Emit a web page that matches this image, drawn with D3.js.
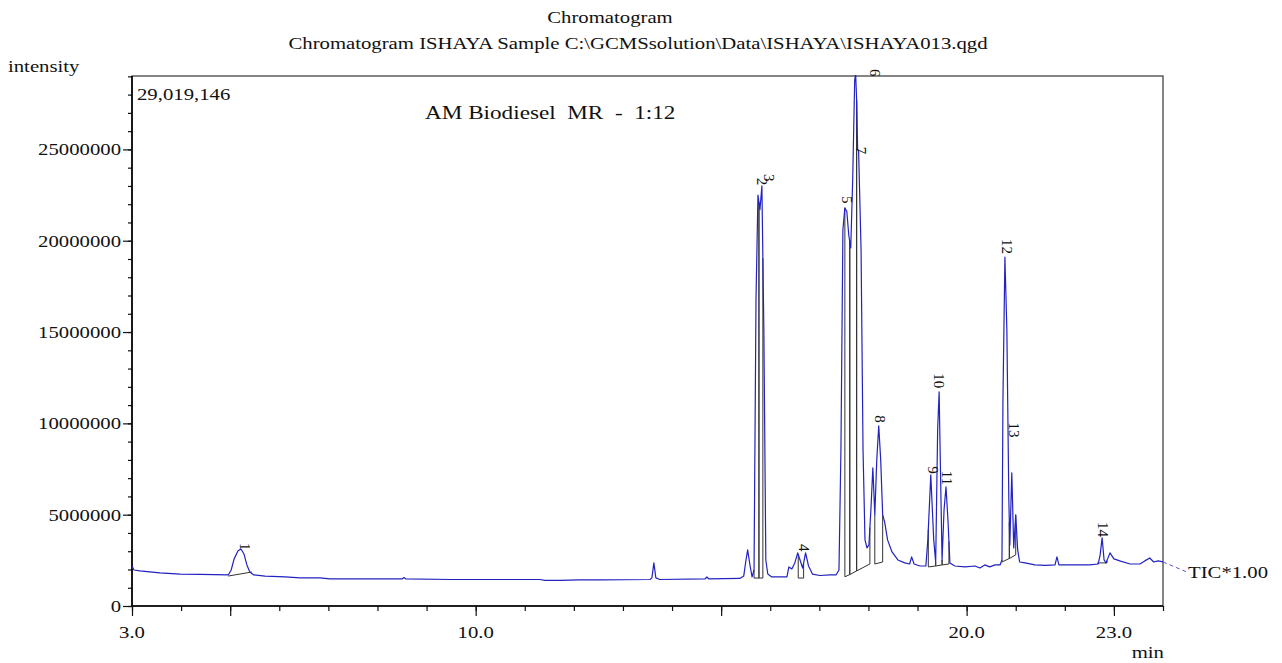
<!DOCTYPE html>
<html lang="en">
<head>
<meta charset="UTF-8">
<title>Chromatogram</title>
<script src="https://d3js.org/d3.v7.min.js"></script>
<style>
  body { margin: 0; background: #fff; }
  text { font-family: "Liberation Serif", "DejaVu Serif", serif; fill: #111; }
</style>
</head>
<body>
<svg id="main" width="1282" height="663"></svg>
<script>
// retention time (min) and TIC intensity (millions)
const rt = [3.00, 3.04, 3.16, 3.57, 3.98, 4.38, 4.96, 5.02, 5.08, 5.16, 5.22, 5.28, 5.34, 5.40, 5.48,
  5.71, 6.12, 6.42, 6.83, 7.03, 7.44, 8.05, 8.50, 8.54, 8.58, 9.48, 10.50, 11.31, 11.41, 11.72,
  12.12, 12.53, 13.55, 13.59, 13.63, 13.67, 13.75, 14.67, 14.71, 14.75, 15.38, 15.46, 15.50, 15.54,
  15.59, 15.63, 15.67, 15.71, 15.75, 15.79, 15.83, 15.87, 15.91, 15.95, 16.03, 16.34, 16.38, 16.44,
  16.50, 16.56, 16.62, 16.66, 16.72, 16.78, 16.86, 17.01, 17.22, 17.34, 17.40, 17.44, 17.48, 17.52,
  17.56, 17.60, 17.64, 17.68, 17.72, 17.74, 17.76, 17.78, 17.80, 17.85, 17.89, 17.93, 17.97, 18.01,
  18.05, 18.09, 18.13, 18.17, 18.21, 18.25, 18.29, 18.33, 18.39, 18.48, 18.60, 18.74, 18.84, 18.88,
  18.93, 19.05, 19.17, 19.21, 19.27, 19.33, 19.37, 19.41, 19.44, 19.46, 19.50, 19.54, 19.58, 19.62,
  19.66, 19.76, 19.97, 20.17, 20.27, 20.37, 20.47, 20.58, 20.68, 20.72, 20.74, 20.78, 20.82, 20.86,
  20.88, 20.92, 20.96, 21.00, 21.04, 21.08, 21.19, 21.39, 21.60, 21.80, 21.84, 21.88, 22.10, 22.51,
  22.68, 22.72, 22.76, 22.80, 22.84, 22.92, 23.00, 23.12, 23.33, 23.53, 23.63, 23.73, 23.81, 23.90, 24.00];
const tic = [2.19, 1.97, 1.92, 1.81, 1.75, 1.73, 1.70, 1.97, 2.58, 3.02, 3.12, 2.85, 2.25, 1.86, 1.70,
  1.64, 1.59, 1.54, 1.54, 1.48, 1.48, 1.48, 1.48, 1.56, 1.48, 1.45, 1.45, 1.45, 1.40, 1.40,
  1.43, 1.43, 1.45, 1.54, 2.36, 1.54, 1.45, 1.48, 1.59, 1.48, 1.51, 1.64, 2.41, 3.07,
  2.19, 1.59, 1.97, 16.8, 22.5, 21.7, 23.0, 15.1, 2.52, 1.75, 1.59, 1.59, 2.14, 2.03,
  2.36, 2.91, 2.41, 2.08, 2.91, 2.19, 1.75, 1.67, 1.70, 1.70, 1.97, 8.55, 20.6, 21.8,
  21.6, 20.3, 19.6, 23.4, 28.8, 29.1, 27.7, 25.0, 24.9, 19.5, 8.55, 3.62, 3.18, 3.34,
  5.26, 7.57, 4.99, 8.00, 9.87, 8.00, 4.99, 4.61, 3.62, 2.96, 2.52, 2.36, 2.30, 2.69,
  2.30, 2.19, 2.19, 3.62, 7.18, 3.62, 2.41, 9.65, 11.73, 8.55, 2.52, 5.26, 6.52, 4.71,
  2.36, 2.19, 2.14, 2.19, 2.08, 2.25, 2.14, 2.25, 2.25, 2.52, 11.3, 19.1, 15.1, 5.81,
  3.34, 7.29, 3.18, 4.99, 3.07, 2.41, 2.36, 2.25, 2.22, 2.25, 2.69, 2.25, 2.25, 2.25,
  2.30, 2.80, 3.73, 2.52, 2.36, 2.91, 2.58, 2.47, 2.30, 2.30, 2.47, 2.63, 2.41, 2.47, 2.41];

// integration: start rt, end rt, baseline at start, baseline at end (millions)
const integStart = [4.96, 15.67, 15.77, 16.57, 17.52, 17.62, 17.76, 18.13, 19.22, 19.37, 19.50, 20.72, 20.87, 22.67];
const integEnd   = [5.44, 15.77, 15.85, 16.68, 17.62, 17.76, 18.03, 18.29, 19.37, 19.50, 19.64, 20.87, 21.00, 22.86];
const integB0    = [1.64, 1.53, 1.53, 1.53, 1.60, 1.72, 1.92, 2.30, 2.14, 2.19, 2.25, 2.41, 2.60, 2.36];
const integB1    = [1.86, 1.53, 1.53, 1.53, 1.72, 1.92, 2.30, 2.41, 2.19, 2.25, 2.30, 2.60, 2.80, 2.36];

// peak numbers and where their (rotated) labels begin
const peakNo   = ["1", "2", "3", "4", "5", "6", "7", "8", "9", "10", "11", "12", "13", "14"];
const labelRt  = [5.19, 15.72, 15.85, 16.58, 17.45, 18.02, 17.74, 18.12, 19.20, 19.33, 19.49, 20.70, 20.84, 22.66];
const labelI   = [3.45, 23.45, 23.65, 3.40, 22.45, 29.40, 25.15, 10.45, 7.65, 12.75, 7.40, 20.10, 10.05, 4.60];

const xMajor = [3, 5, 10, 15, 20, 23];
const xLabels = [3, 10, 20, 23];
const yMaxLabel = "29,019,146";
const yMax = 29.019146;

const svg = d3.select("svg#main");
const mLeft = 132, mRight = 1163, mTop = 76, mBottom = 606;
const stretch = 1.22;
const serif = '"Liberation Serif", "DejaVu Serif", serif';

const x = d3.scaleLinear().domain([3, 24]).range([mLeft, mRight]);
const y = d3.scaleLinear().domain([0, yMax]).range([mBottom, mTop]);

function label(txt, px, py, size, anchor) {
  const g = svg.append("g").attr("transform", "translate(" + px + "," + py + ") scale(" + stretch + ",1)");
  g.append("text").text(txt)
    .attr("font-family", serif)
    .attr("font-size", size)
    .attr("text-anchor", anchor || "start")
    .attr("dominant-baseline", "central")
    .style("white-space", "pre");
}

// frame
svg.append("rect").attr("x", mLeft).attr("y", mTop)
  .attr("width", mRight - mLeft).attr("height", mBottom - mTop)
  .attr("fill", "none").attr("stroke", "#444").attr("stroke-width", 1.3);

// axes
svg.append("g").attr("transform", "translate(0," + mBottom + ")")
  .call(d3.axisBottom(x).tickValues(d3.range(3, 24.01, 1)).tickSize(5).tickFormat(""))
  .call(g => g.select(".domain").remove());
svg.append("g").attr("transform", "translate(0," + mBottom + ")")
  .call(d3.axisBottom(x).tickValues(xMajor).tickSize(10).tickFormat(""))
  .call(g => g.select(".domain").attr("stroke-width", 1.6).attr("d", "M" + mLeft + ",0H" + mRight));
svg.append("g").attr("transform", "translate(" + mLeft + ",0)")
  .call(d3.axisLeft(y).tickValues(d3.range(0, 29.01, 1)).tickSize(4).tickFormat(""))
  .call(g => g.select(".domain").remove());
svg.append("g").attr("transform", "translate(" + mLeft + ",0)")
  .call(d3.axisLeft(y).tickValues(d3.range(0, 26, 5)).tickSize(9).tickFormat(""))
  .call(g => g.select(".domain").attr("stroke-width", 1.6).attr("d", "M0," + mTop + "V" + mBottom));
svg.selectAll(".tick line").attr("stroke", "#111").attr("stroke-width", 1.2);

xLabels.forEach(v => label(d3.format(".1f")(v), x(v), 632, 17, "middle"));
d3.range(0, 26, 5).forEach(v => label(String(v * 1000000), mLeft - 11, y(v), 17, "end"));

// trace
svg.append("clipPath").attr("id", "plot").append("rect")
  .attr("x", mLeft).attr("y", mTop - 1).attr("width", mRight - mLeft).attr("height", mBottom - mTop + 1);

const pts = rt.map((t, i) => [t, tic[i]]);
const line = d3.line().x(d => x(d[0])).y(d => y(d[1]));
const interp = t => {
  const i = d3.bisectLeft(rt, t);
  if (i <= 0) return tic[0];
  const a = (t - rt[i - 1]) / (rt[i] - rt[i - 1]);
  return tic[i - 1] + a * (tic[i] - tic[i - 1]);
};

// integration baselines and drop lines
const ig = svg.append("g").attr("stroke", "#333").attr("stroke-width", 1).attr("fill", "none");
integStart.forEach((s, i) => {
  const e = integEnd[i];
  ig.append("line").attr("x1", x(s)).attr("y1", y(integB0[i])).attr("x2", x(e)).attr("y2", y(integB1[i]));
  if (i > 0) {
    ig.append("line").attr("x1", x(s)).attr("y1", y(integB0[i])).attr("x2", x(s)).attr("y2", y(interp(s)));
    ig.append("line").attr("x1", x(e)).attr("y1", y(integB1[i])).attr("x2", x(e)).attr("y2", y(interp(e)));
  }
});

svg.append("path").datum(pts)
  .attr("clip-path", "url(#plot)")
  .attr("d", line)
  .attr("fill", "none")
  .attr("stroke", "#2222c0")
  .attr("stroke-width", 1.2)
  .attr("stroke-linejoin", "round");

// peak labels, rotated
peakNo.forEach((n, i) => {
  svg.append("text").text(n)
    .attr("transform", "translate(" + x(labelRt[i]) + "," + y(labelI[i]) + ") rotate(90)")
    .attr("font-family", serif)
    .attr("font-size", 15)
    .attr("dy", "-0.05em");
});

// TIC tag
const last = pts[pts.length - 1];
svg.append("line").attr("x1", x(last[0])).attr("y1", y(last[1]))
  .attr("x2", 1187).attr("y2", 572)
  .attr("stroke", "#5a5ad0").attr("stroke-dasharray", "4,3");
label("TIC*1.00", 1188, 572, 17, "start");

// texts
label("Chromatogram", 610, 17, 17, "middle");
label("Chromatogram ISHAYA Sample C:\\GCMSsolution\\Data\\ISHAYA\\ISHAYA013.qgd", 638, 43, 17, "middle");
label("intensity", 8, 66, 17, "start");
label(yMaxLabel, 137, 94, 17, "start");
label("AM Biodiesel  MR  -  1:12", 425, 113, 19, "start");
label("min", 1164, 652, 17, "end");
</script>
</body>
</html>
